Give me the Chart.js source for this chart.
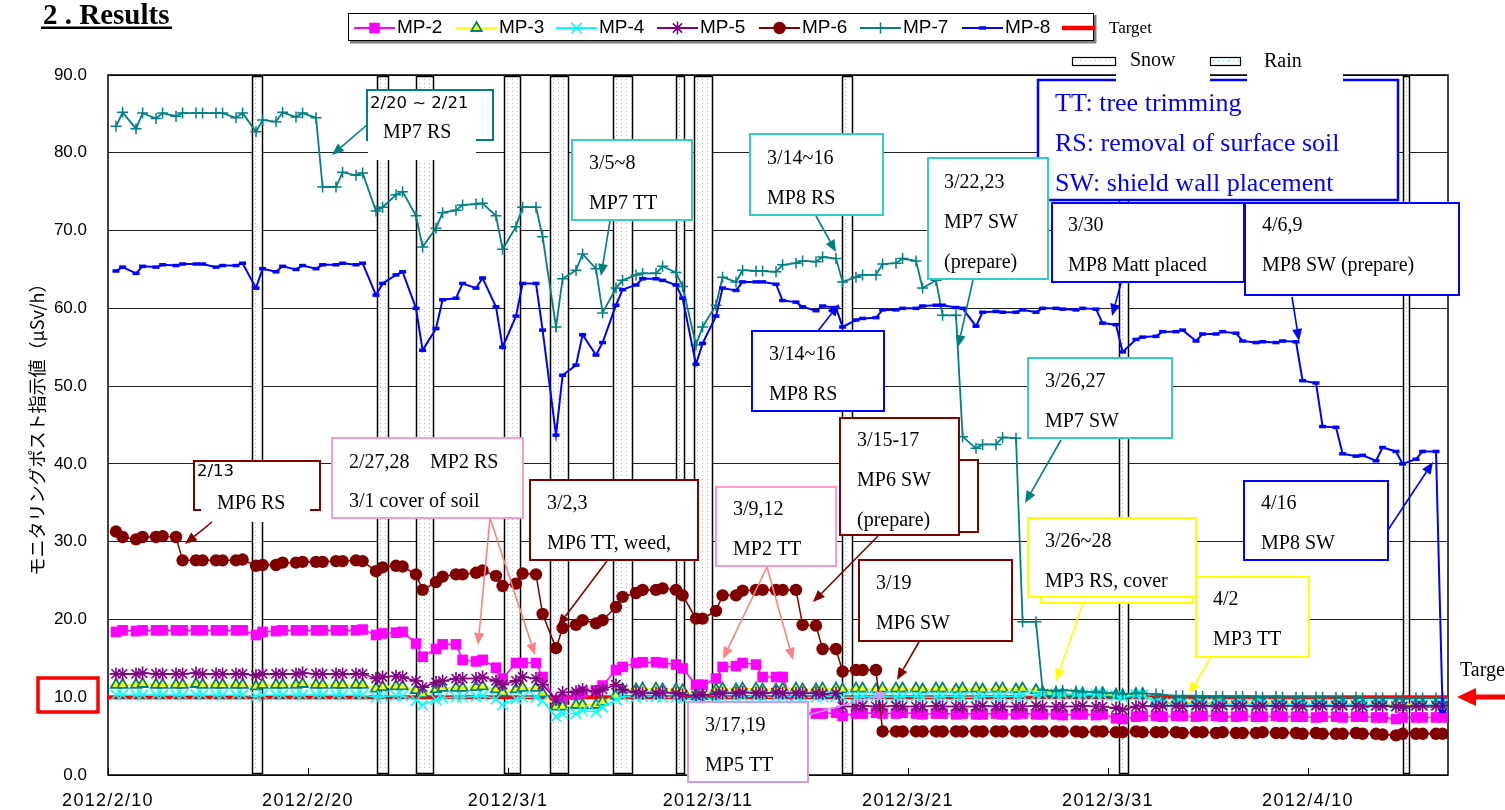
<!DOCTYPE html>
<html><head><meta charset="utf-8">
<script src="https://cdn.jsdelivr.net/npm/chart.js@4.4.1/dist/chart.umd.min.js"></script>
<style>html,body{margin:0;padding:0;background:#fff;overflow:hidden}canvas{display:block}</style>
</head><body>
<canvas id="c" width="1505" height="810"></canvas>
<script>
// ---------- DATA ----------
const xTickValues = [0, 10, 20, 30, 40, 50, 60];
const xTickLabels = ['2012/2/10', '2012/2/20', '2012/3/1', '2012/3/11', '2012/3/21', '2012/3/31', '2012/4/10'];
const yTickStep = 10;
const readFractions = [0.4, 0.73];   // two readings per day (morning / evening)
const numDays = 67;                  // 2012/2/10 .. 2012/4/16
const times = [];
for (let d = 0; d < numDays; d++) for (const f of readFractions) times.push(d + f);

const targetLevel = 10;

const mp2 = [
18.4,18.6, 18.5,18.6, 18.6,18.6, 18.6,18.6, 18.6,18.6,
18.6,18.6, 18.6,18.6, 18.0,18.4, 18.5,18.6, 18.6,18.6,
18.6,18.6, 18.6,18.6, 18.6,18.7, 18.0,18.2, 18.3,18.4,
16.9,15.2, 16.2,16.8, 16.8,14.8, 14.6,14.8, 13.8,12.4,
14.4,14.4, 14.4,12.6, 9.4,9.7, 10.3,10.7, 10.9,11.5,
13.5,13.9, 14.4,14.5, 14.5,14.4, 14.2,13.7, 11.6,11.6,
12.4,13.9, 14.0,14.4, 14.2,12.6, 12.6,12.6, 8.0,8.0,
7.9,7.9, 8.0,7.6, 7.9,7.9, 8.0,7.9, 7.9,8.0,
7.9,7.8, 7.9,7.9, 7.8,7.9, 7.8,7.8, 7.9,7.8,
7.8,7.9, 7.8,7.8, 7.8,7.7, 7.8,7.8, 7.7,7.8,
7.3,7.2, 7.5,7.6, 7.6,7.5, 7.6,7.6, 7.5,7.6,
7.6,7.5, 7.5,7.6, 7.5,7.5, 7.6,7.5, 7.5,7.5,
7.4,7.5, 7.5,7.4, 7.5,7.5, 7.4,7.4, 7.2,7.4,
7.4,7.4, 7.4,7.4
];
const mp3 = [
11.6,11.6, 11.6,11.7, 11.6,11.6, 11.6,11.6, 11.7,11.6,
11.6,11.6, 11.6,11.6, 11.4,11.6, 11.6,11.6, 11.6,11.7,
11.6,11.6, 11.6,11.6, 11.6,11.6, 11.1,11.3, 11.4,11.4,
10.9,10.4, 11.0,11.2, 11.2,11.2, 11.3,11.4, 11.0,10.6,
11.0,11.2, 11.2,10.5, 8.8,8.8, 9.0,9.0, 9.0,9.4,
10.2,11.0, 11.0,11.1, 11.1,11.0, 11.0,10.9, 10.2,10.2,
11.0,11.1, 11.0,11.1, 11.1,11.0, 11.0,11.1, 11.1,11.0,
11.0,11.1, 11.1,11.0, 11.1,11.1, 11.0,11.1, 11.1,11.1,
11.1,11.0, 11.1,11.1, 11.0,11.1, 11.1,11.0, 11.1,11.1,
11.0,11.1, 10.9,10.6, 10.5,10.4, 10.4,10.4, 10.4,10.5,
10.3,10.2, 10.4,10.4, 9.4,9.3, 9.3,9.3, 9.3,9.2,
9.3,9.3, 9.2,9.3, 9.3,9.3, 9.2,9.2, 9.3,9.2,
9.2,9.2, 9.2,9.2, 9.2,9.1, 9.2,9.2, 9.1,9.0,
9.1,9.1, 9.1,9.1
];
const mp4 = [
10.3,10.3, 10.3,10.3, 10.3,10.3, 10.3,10.3, 10.3,10.3,
10.3,10.3, 10.3,10.3, 10.1,10.3, 10.3,10.3, 10.3,10.3,
10.3,10.3, 10.3,10.3, 10.3,10.3, 10.0,10.1, 10.2,10.2,
9.6,9.0, 9.7,9.9, 10.0,10.0, 10.1,10.2, 9.8,9.0,
9.8,10.0, 10.0,9.5, 7.5,7.9, 7.9,8.3, 8.1,8.7,
9.7,10.1, 10.0,10.1, 10.1,10.0, 10.0,9.9, 9.7,9.8,
9.9,10.0, 10.0,10.1, 10.1,10.0, 10.0,10.1, 10.1,10.0,
10.0,10.1, 10.1,10.0, 10.0,10.1, 10.1,10.1, 10.0,10.1,
10.1,10.0, 10.0,10.1, 10.1,10.0, 10.0,10.1, 10.1,10.1,
10.1,10.2, 10.3,10.4, 10.4,10.4, 10.4,10.3, 10.4,10.3,
10.2,10.0, 10.3,10.3, 9.3,9.2, 9.2,9.2, 9.1,9.2,
9.2,9.1, 9.1,9.1, 9.1,9.2, 9.1,9.1, 9.1,9.0,
9.1,9.1, 9.0,9.1, 9.0,9.0, 9.0,9.0, 8.9,8.8,
9.0,9.0, 9.0,9.0
];
const mp5 = [
13.0,13.0, 13.0,13.1, 13.0,13.0, 13.0,13.0, 13.1,13.0,
13.0,13.0, 13.0,13.0, 12.8,13.0, 13.0,13.0, 13.0,13.1,
13.0,13.0, 13.0,13.0, 13.0,13.0, 12.4,12.6, 12.7,12.6,
12.1,11.3, 11.9,12.1, 12.4,12.4, 12.4,12.6, 12.1,11.6,
12.1,12.6, 12.4,11.6, 9.7,10.6, 10.7,11.0, 10.7,11.0,
11.6,11.0, 10.6,10.5, 10.5,10.6, 10.5,10.3, 10.2,10.3,
10.4,10.5, 10.5,10.6, 10.5,10.5, 10.6,10.5, 10.5,10.5,
10.5,10.4, 10.5,8.8, 8.8,8.9, 8.8,8.8, 8.9,8.8,
8.8,8.8, 8.9,8.8, 8.8,8.8, 8.8,8.9, 8.8,8.8,
8.8,8.8, 8.9,8.8, 8.8,8.8, 8.8,8.9, 8.8,8.8,
8.6,8.4, 8.8,8.9, 8.8,8.9, 8.9,8.8, 8.9,8.9,
8.8,8.9, 8.9,8.9, 8.8,8.9, 8.9,8.9, 8.9,8.8,
8.9,8.9, 8.9,8.9, 8.9,8.8, 8.9,8.9, 8.8,8.8,
8.9,8.9, 8.9,8.9
];
const mp6 = [
31.3,30.6, 30.3,30.6, 30.6,30.7, 30.6,27.6, 27.6,27.6,
27.6,27.6, 27.6,27.7, 26.9,27.0, 27.0,27.3, 27.3,27.4,
27.4,27.4, 27.5,27.5, 27.6,27.5, 26.2,26.7, 26.9,26.8,
25.8,23.8, 24.8,25.5, 25.8,25.8, 26.0,26.3, 25.6,24.3,
24.6,25.9, 25.8,20.7, 16.3,18.9, 19.3,19.9, 19.5,19.9,
21.6,22.9, 23.4,23.8, 23.8,24.0, 23.8,23.1, 20.1,20.1,
21.1,23.1, 23.1,23.7, 23.8,23.8, 23.8,23.8, 23.8,19.3,
19.2,16.2, 16.2,13.3, 13.5,13.5, 13.5,5.6, 5.6,5.6,
5.6,5.6, 5.6,5.6, 5.6,5.6, 5.6,5.6, 5.6,5.6,
5.6,5.6, 5.6,5.6, 5.6,5.6, 5.6,5.5, 5.6,5.6,
5.5,5.5, 5.6,5.5, 5.5,5.5, 5.5,5.4, 5.5,5.5,
5.4,5.5, 5.4,5.4, 5.4,5.5, 5.4,5.4, 5.4,5.3,
5.4,5.3, 5.3,5.3, 5.4,5.3, 5.3,5.2, 5.1,5.3,
5.3,5.3, 5.3,5.3
];
const mp7 = [
83.4,85.2, 83.1,85.1, 84.4,85.1, 84.7,85.1, 85.1,85.1,
85.1,85.1, 84.5,85.1, 82.7,84.2, 84.0,85.2, 84.6,85.1,
84.5,75.6, 75.6,77.5, 77.1,77.4, 72.5,73.0, 74.6,75.0,
71.9,67.9, 70.3,72.3, 72.6,73.3, 73.4,73.5, 71.9,67.6,
70.5,73.0, 73.0,69.2, 57.6,63.8, 64.9,67.0, 65.1,59.4,
62.6,63.6, 64.3,64.5, 64.5,65.4, 64.6,62.8, 55.3,57.6,
60.4,64.0, 63.4,64.9, 64.8,64.8, 64.7,65.6, 65.8,66.1,
66.0,66.6, 66.4,63.4, 64.0,64.3, 64.3,65.7, 65.8,66.4,
66.1,62.6, 63.6,59.1, 59.1,43.5, 42.0,42.5, 42.5,43.4,
43.3,19.7, 19.7,10.9, 10.8,10.9, 10.8,10.7, 10.7,10.6,
10.5,10.4, 10.5,10.5, 10.4,10.3, 10.2,10.2, 10.2,10.1,
10.1,10.1, 10.1,10.1, 10.1,10.0, 10.1,10.0, 10.0,10.0,
10.0,10.0, 10.0,9.9, 10.0,9.9, 9.9,9.9, 9.9,9.8,
9.9,9.9, 9.9,9.9
];
const mp8 = [
64.8,65.3, 64.5,65.4, 65.3,65.6, 65.5,65.7, 65.7,65.7,
65.3,65.5, 65.5,65.8, 62.6,65.1, 64.7,65.4, 65.0,65.5,
65.1,65.6, 65.6,65.8, 65.6,65.8, 61.7,63.2, 64.3,64.7,
60.0,54.6, 57.4,61.1, 61.3,63.2, 62.6,63.9, 60.2,55.0,
59.0,63.2, 63.2,57.2, 43.7,51.4, 52.7,56.6, 54.0,55.6,
60.4,62.4, 63.0,63.8, 63.8,63.6, 63.0,61.3, 52.8,55.5,
59.0,62.6, 62.3,63.4, 63.4,63.4, 63.1,61.0, 60.8,60.2,
59.7,60.3, 60.1,57.6, 58.5,58.7, 58.8,59.8, 59.8,60.0,
60.0,60.3, 60.4,60.4, 60.1,60.0, 57.7,59.5, 59.6,59.5,
59.5,59.8, 59.5,60.0, 60.0,59.9, 59.8,60.0, 59.9,58.1,
57.9,54.4, 56.0,56.3, 56.4,57.0, 57.0,57.2, 55.8,56.7,
56.7,57.0, 56.8,55.8, 55.6,55.7, 55.6,55.8, 55.7,50.7,
50.4,44.8, 44.7,41.3, 41.0,41.1, 40.4,42.1, 41.6,40.0,
40.6,41.6, 41.6,8.2
];

// snow / rain periods (day offsets from 2012/2/10)
const bandStart = [7.19, 13.45, 15.4, 19.8, 22.1, 25.25, 28.4, 29.3, 36.7, 50.53, 64.75];
const bandEnd   = [7.69, 14.0, 16.25, 20.6, 23.0, 26.2, 28.8, 30.2, 37.2, 51.0, 65.05];
const bandType  = ['snow','rain','snow','snow','snow','rain','rain','snow','rain','rain','rain'];

// ---------- STYLE ----------
const SERIF = '"Liberation Serif", "Times New Roman", serif';
const SANS = '"Liberation Sans", Arial, sans-serif';
const DSANS = '"DejaVu Sans", sans-serif';
const F20 = '20px ' + SERIF;

const seriesStyle = [
  {label:'MP-2', arr:mp2, line:'#ff00ff', ps:'rect', r:7.5, fill:'#ff00ff', stroke:'#ff00ff', pbw:0, lw:1.5},
  {label:'MP-3', arr:mp3, line:'#ffff00', ps:'triangle', r:6, fill:'#ffff00', stroke:'#008080', pbw:1.8, lw:2},
  {label:'MP-4', arr:mp4, line:'#00ffff', ps:'crossRot', r:7.5, fill:'#00ffff', stroke:'#00ffff', pbw:1.6, lw:1.5},
  {label:'MP-5', arr:mp5, line:'#800080', ps:'star', r:6.5, fill:'#800080', stroke:'#800080', pbw:1.6, lw:1.5},
  {label:'MP-6', arr:mp6, line:'#800000', ps:'circle', r:6.2, fill:'#800000', stroke:'#800000', pbw:0, lw:1.5},
  {label:'MP-7', arr:mp7, line:'#008080', ps:'cross', r:5.5, fill:'#008080', stroke:'#008080', pbw:1.5, lw:1.8},
  {label:'MP-8', arr:mp8, line:'#0000ff', ps:'line', r:3.5, fill:'#0000ff', stroke:'#0000ff', pbw:3.5, lw:2}
];

function pts(arr){ return arr.map((v,i)=>({x:times[i], y:v})); }

const datasets = seriesStyle.map((s,i)=>({
  label:s.label, data:pts(s.arr), borderColor:s.line, backgroundColor:s.fill,
  borderWidth:s.lw, pointStyle:s.ps, pointRadius:s.r,
  pointBackgroundColor:s.fill, pointBorderColor:s.stroke, pointBorderWidth:s.pbw,
  order:7-i, tension:0
}));
datasets.push({label:'Target', data:[{x:0,y:targetLevel},{x:numDays,y:targetLevel}],
  borderColor:'#ff0000', borderWidth:4, pointRadius:0, order:8});

// ---------- helpers ----------
function txt(ctx, s, x, y, font, color, align){
  ctx.font = font; ctx.fillStyle = color || '#000'; ctx.textAlign = align || 'left';
  ctx.textBaseline = 'middle'; ctx.fillText(s, x, y);
}
function box(ctx, x, y, w, h, color, lw){
  ctx.fillStyle = '#fff'; ctx.fillRect(x, y, w, h);
  ctx.strokeStyle = color; ctx.lineWidth = lw || 2; ctx.strokeRect(x, y, w, h);
}
function patch(ctx, x, y, w, h){ ctx.fillStyle = '#fff'; ctx.fillRect(x, y, w, h); }
function arrow(ctx, x1, y1, x2, y2, color, w, head, hw){
  w = w || 1.6; head = head || 12; hw = hw || 5;
  ctx.strokeStyle = color; ctx.fillStyle = color; ctx.lineWidth = w;
  const a = Math.atan2(y2-y1, x2-x1);
  const bx = x2 - head*Math.cos(a), by = y2 - head*Math.sin(a);
  ctx.beginPath(); ctx.moveTo(x1, y1); ctx.lineTo(bx, by); ctx.stroke();
  ctx.beginPath(); ctx.moveTo(x2, y2);
  ctx.lineTo(bx + hw*Math.sin(a), by - hw*Math.cos(a));
  ctx.lineTo(bx - hw*Math.sin(a), by + hw*Math.cos(a));
  ctx.closePath(); ctx.fill();
}
function dotsRect(ctx, x0, y0, x1, y1, color){
  ctx.fillStyle = color;
  for (let x = x0 + 3; x < x1 - 2; x += 5)
    for (let y = y0 + 3; y < y1 - 2; y += 4) ctx.fillRect(x, y, 1, 1);
}
function marker(ctx, s, x, y){
  ctx.save();
  ctx.fillStyle = s.fill; ctx.strokeStyle = s.stroke; ctx.lineWidth = s.pbw;
  if (Chart.helpers && Chart.helpers.drawPoint) {
    Chart.helpers.drawPoint(ctx, {pointStyle:s.ps, radius:s.r, rotation:0, borderWidth:s.pbw}, x, y);
  }
  ctx.restore();
}

// ---------- plugin ----------
const decor = {
  id:'decor',
  beforeDatasetsDraw(chart){
    const ctx = chart.ctx, xs = chart.scales.x, a = chart.chartArea;
    ctx.save();
    for (let i = 0; i < bandStart.length; i++){
      const x0 = Math.round(xs.getPixelForValue(bandStart[i]));
      const x1 = Math.round(xs.getPixelForValue(bandEnd[i]));
      const y0 = a.top + 1, y1 = a.bottom - 2;
      ctx.fillStyle = '#fff'; ctx.fillRect(x0, y0, x1-x0, y1-y0);
      dotsRect(ctx, x0, y0, x1, y1, bandType[i] === 'snow' ? '#b8b8b8' : '#40d8d8');
      ctx.strokeStyle = '#000'; ctx.lineWidth = 1.5;
      ctx.strokeRect(x0 + 0.5, y0 + 0.5, x1 - x0, y1 - y0);
    }
    ctx.strokeStyle = '#000'; ctx.lineWidth = 1.5;
    ctx.strokeRect(a.left, a.top, a.right - a.left, a.bottom - a.top);
    ctx.lineWidth = 1;
    for (const v of xTickValues){
      const x = Math.round(xs.getPixelForValue(v)) + 0.5;
      ctx.beginPath(); ctx.moveTo(x, a.bottom); ctx.lineTo(x, a.bottom - 7); ctx.stroke();
    }
    ctx.restore();
  },
  afterDraw(chart){
    const ctx = chart.ctx, xs = chart.scales.x;
    ctx.save();
    // x tick labels
    ctx.letterSpacing = '1.3px';
    xTickValues.forEach((v, i) => {
      txt(ctx, xTickLabels[i], xs.getPixelForValue(v), 801, '18px ' + SANS, '#000', 'center');
    });
    ctx.letterSpacing = '0px';

    // title
    ctx.font = 'bold 29px ' + SERIF; ctx.fillStyle = '#000'; ctx.textAlign = 'left'; ctx.textBaseline = 'alphabetic';
    ctx.fillText('2 . Results', 43, 24);
    ctx.fillRect(41, 26.5, 131, 2.5);

    // series legend
    ctx.fillStyle = '#808080'; ctx.fillRect(350, 41, 746, 2.5); ctx.fillRect(1094, 15, 2.5, 28);
    ctx.fillStyle = '#fff'; ctx.fillRect(348, 13, 746, 28);
    ctx.strokeStyle = '#000'; ctx.lineWidth = 1; ctx.strokeRect(348.5, 13.5, 745, 27);
    const legendX = [354, 456, 556, 657, 759, 860, 962];
    seriesStyle.forEach((s, i) => {
      const lx = legendX[i];
      ctx.strokeStyle = s.line; ctx.lineWidth = 2;
      ctx.beginPath(); ctx.moveTo(lx, 28); ctx.lineTo(lx + 41, 28); ctx.stroke();
      marker(ctx, s, lx + 20.5, 28);
      txt(ctx, s.label, lx + 43, 28, '19px ' + SANS);
    });
    ctx.strokeStyle = '#ff0000'; ctx.lineWidth = 4.5;
    ctx.beginPath(); ctx.moveTo(1062, 28); ctx.lineTo(1095, 28); ctx.stroke();
    txt(ctx, 'Target', 1109, 29, '17px ' + SERIF);

    // ----- annotations -----
    box(ctx, 1038, 80, 360, 120, '#0000ff', 2.5);
    txt(ctx, 'TT: tree trimming', 1055, 104, '26px ' + SERIF, '#0000ff');
    txt(ctx, 'RS: removal of surface soil', 1055, 144, '26px ' + SERIF, '#0000ff');
    txt(ctx, 'SW: shield wall placement', 1055, 184, '26px ' + SERIF, '#0000ff');
    // snow / rain legend
    patch(ctx, 1116, 45, 94, 37); patch(ctx, 1247, 45, 96, 37);
    ctx.fillStyle = '#fff'; ctx.fillRect(1072, 57, 44, 9); dotsRect(ctx, 1072, 57, 1116, 66, '#b8b8b8');
    ctx.strokeStyle = '#000'; ctx.lineWidth = 1.2; ctx.strokeRect(1072.5, 57.5, 43, 8);
    txt(ctx, 'Snow', 1130, 61, '20px ' + SERIF);
    ctx.fillStyle = '#fff'; ctx.fillRect(1210, 57, 31, 9); dotsRect(ctx, 1210, 57, 1241, 66, '#40d8d8');
    ctx.strokeStyle = '#000'; ctx.strokeRect(1210.5, 57.5, 30, 8);
    txt(ctx, 'Rain', 1264, 62, '20px ' + SERIF);

    // A: 2/20~2/21 MP7 RS
    box(ctx, 367, 90, 126, 50, '#008080');
    txt(ctx, '2/20 ~ 2/21', 370, 104, '16.5px ' + DSANS);
    patch(ctx, 368, 118, 108, 42);
    txt(ctx, 'MP7 RS', 383, 133, F20);
    arrow(ctx, 367, 125, 332, 155, '#008080');
    // B: 3/5~8 MP7 TT
    box(ctx, 572, 140, 120, 80, '#33cccc');
    txt(ctx, '3/5~8', 589, 164, F20); txt(ctx, 'MP7 TT', 589, 204, F20);
    arrow(ctx, 610, 221, 601, 276, '#008080');
    // C: 3/14~16 MP8 RS (upper)
    box(ctx, 750, 134, 133, 81, '#33cccc');
    txt(ctx, '3/14~16', 767, 159, F20); txt(ctx, 'MP8 RS', 767, 199, F20);
    arrow(ctx, 816, 216, 836, 252, '#008080');
    // D: 3/14~16 MP8 RS (lower)
    box(ctx, 752, 331, 132, 80, '#0000ff');
    txt(ctx, '3/14~16', 769, 355, F20); txt(ctx, 'MP8 RS', 769, 395, F20);
    arrow(ctx, 818, 331, 839, 304, '#0000ff');
    // F: 3/22,23 MP7 SW (prepare)
    box(ctx, 928, 158, 120, 121, '#33cccc');
    txt(ctx, '3/22,23', 944, 183, F20); txt(ctx, 'MP7 SW', 944, 223, F20); txt(ctx, '(prepare)', 944, 263, F20);
    arrow(ctx, 973, 280, 958, 347, '#008080');
    // G: 3/30 MP8 Matt placed
    box(ctx, 1052, 203, 192, 79, '#0000ff');
    txt(ctx, '3/30', 1068, 226, F20); txt(ctx, 'MP8 Matt placed', 1068, 266, F20);
    arrow(ctx, 1121, 283, 1112, 316, '#0000ff');
    // H: 4/6,9 MP8 SW (prepare)
    box(ctx, 1245, 203, 214, 92, '#0000ff');
    txt(ctx, '4/6,9', 1262, 226, F20); txt(ctx, 'MP8 SW (prepare)', 1262, 266, F20);
    arrow(ctx, 1292, 297, 1299, 341, '#0000ff');
    // I: 3/26,27 MP7 SW
    box(ctx, 1028, 358, 144, 80, '#33cccc');
    txt(ctx, '3/26,27', 1045, 382, F20); txt(ctx, 'MP7 SW', 1045, 422, F20);
    arrow(ctx, 1061, 440, 1025, 503, '#008080');
    // J: 2/13 MP6 RS
    box(ctx, 194, 461, 126, 49, '#800000');
    txt(ctx, '2/13', 197, 472, '16.5px ' + DSANS);
    patch(ctx, 201, 483, 109, 39);
    txt(ctx, 'MP6 RS', 217, 504, F20);
    arrow(ctx, 212, 522, 185, 544, '#800000');
    // K: 2/27,28 MP2 RS / 3/1 cover of soil
    box(ctx, 332, 438, 191, 80, '#ff99cc');
    txt(ctx, '2/27,28', 349, 463, F20); txt(ctx, 'MP2 RS', 430, 463, F20);
    txt(ctx, '3/1 cover of soil', 349, 502, F20);
    arrow(ctx, 490, 518, 478, 645, '#ff8080');
    arrow(ctx, 490, 518, 535, 655, '#ff8080');
    // L: 3/2,3 MP6 TT, weed,
    box(ctx, 530, 480, 168, 80, '#800000');
    txt(ctx, '3/2,3', 547, 504, F20); txt(ctx, 'MP6 TT, weed,', 547, 544, F20);
    arrow(ctx, 607, 561, 558, 626, '#800000');
    // M: 3/9,12 MP2 TT
    box(ctx, 716, 487, 120, 79, '#ff99cc');
    txt(ctx, '3/9,12', 733, 510, F20); txt(ctx, 'MP2 TT', 733, 550, F20);
    arrow(ctx, 767, 567, 723, 659, '#ff8080');
    arrow(ctx, 767, 567, 793, 660, '#ff8080');
    // N: 3/15-17 MP6 SW (prepare)
    box(ctx, 958, 460, 20, 72, '#800000');
    box(ctx, 840, 418, 119, 117, '#800000');
    txt(ctx, '3/15-17', 857, 441, F20); txt(ctx, 'MP6 SW', 857, 481, F20); txt(ctx, '(prepare)', 857, 521, F20);
    arrow(ctx, 878, 536, 813, 602, '#800000');
    // O: 3/19 MP6 SW
    box(ctx, 859, 560, 153, 81, '#800000');
    txt(ctx, '3/19', 876, 584, F20); txt(ctx, 'MP6 SW', 876, 624, F20);
    arrow(ctx, 919, 642, 897, 680, '#800000');
    // P: 3/17,19 MP5 TT
    box(ctx, 688, 702, 120, 80, '#cc99ff');
    txt(ctx, '3/17,19', 705, 726, F20); txt(ctx, 'MP5 TT', 705, 766, F20);
    arrow(ctx, 808, 715, 888, 693, '#cc99ff');
    // Q: 3/26~28 MP3 RS, cover
    box(ctx, 1041, 597, 152, 6, '#ffff00');
    box(ctx, 1028, 518, 168, 79, '#ffff00');
    txt(ctx, '3/26~28', 1045, 542, F20); txt(ctx, 'MP3 RS, cover', 1045, 582, F20);
    arrow(ctx, 1083, 603, 1056, 681, '#ffff00');
    // R: 4/2 MP3 TT
    box(ctx, 1196, 577, 113, 80, '#ffff00');
    txt(ctx, '4/2', 1213, 600, F20); txt(ctx, 'MP3 TT', 1213, 640, F20);
    arrow(ctx, 1211, 657, 1189, 694, '#ffff00');
    // S: 4/16 MP8 SW
    box(ctx, 1244, 481, 144, 79, '#0000ff');
    txt(ctx, '4/16', 1261, 504, F20); txt(ctx, 'MP8 SW', 1261, 544, F20);
    arrow(ctx, 1388, 530, 1433, 462, '#0000ff');

    // Target pointer on the right
    arrow(ctx, 1505, 697, 1457, 697, '#ff0000', 5, 19, 9);
    txt(ctx, 'Target', 1460, 671, '20px ' + SERIF);

    // red frame around 10.0 tick label
    ctx.strokeStyle = '#ff0000'; ctx.lineWidth = 3.5;
    ctx.strokeRect(38, 678, 60, 34);
    ctx.restore();
  }
};

new Chart(document.getElementById('c'), {
  type:'line',
  data:{datasets},
  options:{
    responsive:false, animation:false, devicePixelRatio:1,
    layout:{padding:{top:75, right:57, left:0, bottom:0}},
    plugins:{legend:{display:false}, tooltip:{enabled:false}},
    elements:{line:{tension:0}},
    scales:{
      x:{type:'linear', min:0, max:numDays,
         ticks:{display:false, stepSize:10},
         grid:{display:false}, border:{display:false},
         afterFit(axis){ axis.height = 35; }},
      y:{min:0, max:90,
         ticks:{stepSize:yTickStep, callback:v=>Number(v).toFixed(1), color:'#000',
                font:{family:'"Liberation Sans", Arial, sans-serif', size:17}, padding:21},
         grid:{color:'#222', lineWidth:1, drawTicks:false},
         border:{display:false},
         title:{display:true, text:'モニタリングポスト指示値（μSv/h）', color:'#000',
                font:{family:'"Noto Sans CJK JP", "Noto Sans", sans-serif', size:18},
                padding:{top:26, bottom:0}},
         afterFit(axis){ axis.width = 108; }}
    }
  },
  plugins:[decor]
});
</script>
</body></html>
